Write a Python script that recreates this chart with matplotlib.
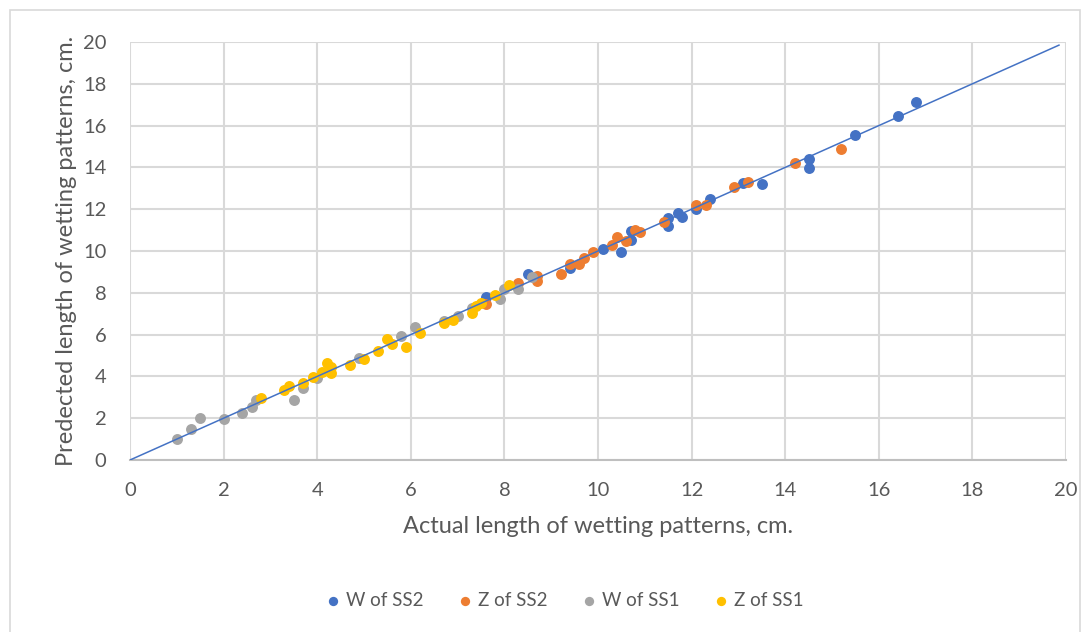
import numpy as np
import matplotlib.pyplot as plt
from matplotlib.patches import Rectangle

plt.rcParams['font.family'] = ['Lato', 'DejaVu Sans']

# actual (x) vs predicted (y) wetting pattern lengths, cm
w_ss2_x = [7.6, 8.5, 9.4, 10.1, 10.5, 10.7, 10.7, 11.5, 11.5, 11.7, 11.8, 12.1, 12.4, 13.1, 13.5, 14.5, 14.5, 15.5, 16.4, 16.8]
w_ss2_y = [7.8, 8.9, 9.2, 10.1, 9.95, 10.55, 10.95, 11.6, 11.2, 11.8, 11.65, 12.0, 12.5, 13.25, 13.2, 14.4, 13.95, 15.55, 16.45, 17.15]

z_ss2_x = [7.6, 8.3, 8.7, 8.7, 9.2, 9.4, 9.6, 9.7, 9.9, 10.3, 10.4, 10.6, 10.8, 10.9, 11.4, 12.1, 12.3, 12.9, 13.2, 14.2, 15.2]
z_ss2_y = [7.45, 8.45, 8.8, 8.55, 8.9, 9.4, 9.4, 9.65, 9.95, 10.3, 10.65, 10.5, 11.0, 10.9, 11.4, 12.2, 12.2, 13.05, 13.3, 14.2, 14.9]

w_ss1_x = [1.0, 1.3, 1.5, 2.0, 2.4, 2.6, 2.7, 3.5, 3.7, 4.0, 4.9, 5.8, 6.1, 6.7, 7.0, 7.3, 7.9, 8.0, 8.3, 8.6]
w_ss1_y = [1.0, 1.5, 2.0, 1.95, 2.25, 2.55, 2.85, 2.85, 3.45, 3.9, 4.9, 5.95, 6.35, 6.65, 6.9, 7.25, 7.7, 8.2, 8.2, 8.75]

z_ss1_x = [2.8, 3.3, 3.4, 3.7, 3.9, 4.1, 4.2, 4.3, 4.3, 4.7, 5.0, 5.3, 5.5, 5.6, 5.9, 6.2, 6.7, 6.9, 7.3, 7.4, 7.5, 7.8, 8.1]
z_ss1_y = [2.95, 3.35, 3.55, 3.7, 3.95, 4.2, 4.65, 4.45, 4.15, 4.55, 4.85, 5.2, 5.8, 5.55, 5.4, 6.1, 6.55, 6.7, 7.05, 7.35, 7.5, 7.9, 8.35]

series = [
    ('W of SS2', w_ss2_x, w_ss2_y, '#4472C4'),
    ('Z of SS2', z_ss2_x, z_ss2_y, '#ED7D31'),
    ('W of SS1', w_ss1_x, w_ss1_y, '#A5A5A5'),
    ('Z of SS1', z_ss1_x, z_ss1_y, '#FFC000'),
]

txt = '#595959'
fig = plt.figure(figsize=(10.92, 6.32), dpi=100)
fig.patches.append(Rectangle((10/1092, -0.01), 1070/1092, 1 - 10/632 + 0.01,
                             transform=fig.transFigure, fill=False,
                             edgecolor='#d9d9d9', linewidth=1.2))
ax = fig.add_axes([130/1092, 1 - 460/632, 936/1092, 418/632])

for name, xs, ys, c in series:
    ax.scatter(xs, ys, s=62, color=c, label=name, zorder=3, linewidths=0)

# 1:1 line
lx = np.array([0, 19.85])
ax.plot(lx, lx, color='#4472C4', linewidth=1.1, zorder=4)

ax.set_xlim(0, 20)
ax.set_ylim(0, 20)
ax.set_xticks(range(0, 21, 2))
ax.set_yticks(range(0, 21, 2))
ax.grid(True, color='#d9d9d9', linewidth=1.5, zorder=0)
ax.set_axisbelow(True)
for s in ['top', 'right', 'left']:
    ax.spines[s].set_visible(False)
ax.spines['bottom'].set_color('#bfbfbf')
ax.spines['bottom'].set_linewidth(1.5)
ax.tick_params(length=0, labelsize=14.5, labelcolor=txt)
ax.tick_params(axis='x', pad=16)
ax.tick_params(axis='y', pad=17)

ax.set_xlabel('Actual length of wetting patterns, cm.', fontsize=17, color=txt, labelpad=12)
ax.set_ylabel('Predected length of wetting patterns, cm.', fontsize=17, color=txt, labelpad=4)

leg = fig.legend(loc='center', bbox_to_anchor=(563/1092, 1 - 600/632), ncol=4,
                 frameon=False, fontsize=13.5, handletextpad=0.1, columnspacing=1.6,
                 markerscale=0.85, handlelength=1.2)
for t in leg.get_texts():
    t.set_color(txt)

fig.savefig('out.png', dpi=100)
